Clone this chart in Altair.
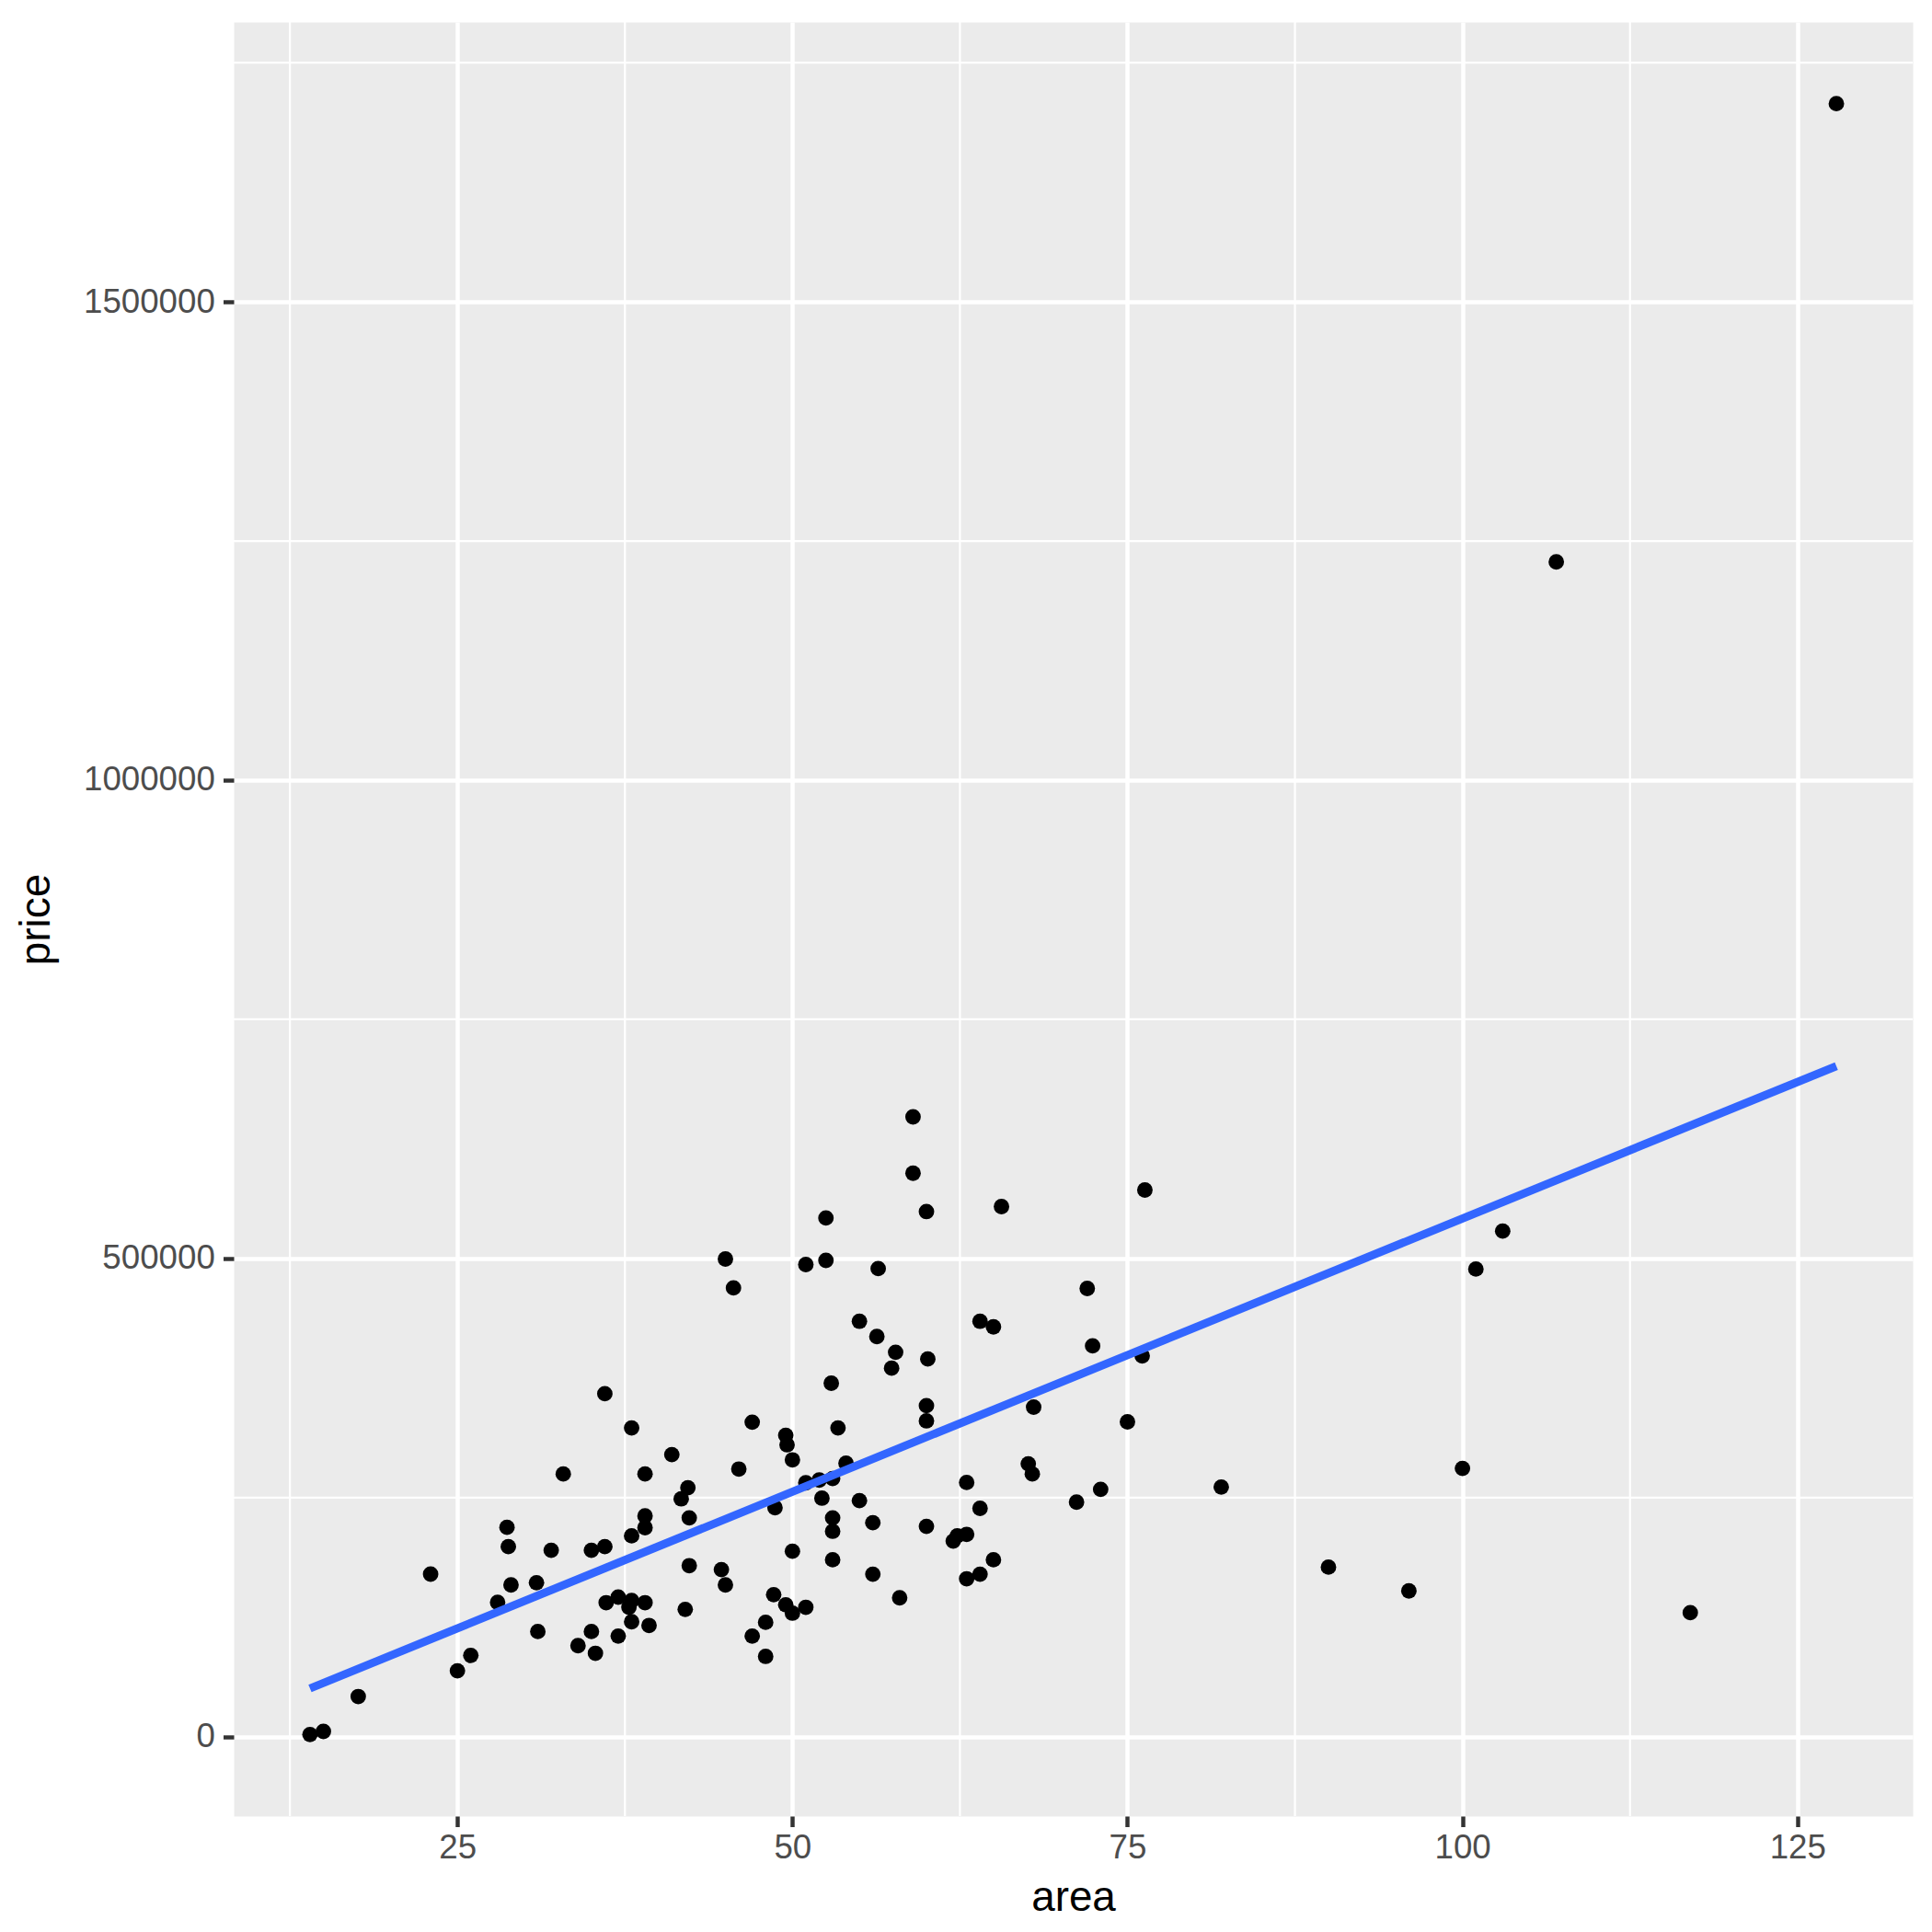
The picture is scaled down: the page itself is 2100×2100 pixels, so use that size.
import altair as alt
import pandas as pd

area = [
    32.9, 28.7, 28.8, 32.0, 35.0, 23.0, 29.0, 30.9, 28.0, 31.0, 34.0, 35.0, 35.3, 26.0, 25.0, 17.6, 14.0, 15.0,
    38.0, 47.0, 49.5, 49.6, 53.4, 41.0, 39.0, 46.0, 50.0, 54.0, 51.0, 52.0, 53.0, 42.2, 41.7, 52.2, 55.0, 48.7,
    39.0, 39.0, 42.3, 53.0, 53.0, 38.0, 36.0, 50.0, 53.0, 42.3, 44.7, 45.0, 36.1, 37.0, 38.0, 37.8, 39.0, 38.0,
    39.3, 42.0, 37.0, 48.6, 49.5, 50.0, 51.0, 48.0, 47.0, 48.0,
    52.5, 45.0, 45.6, 51.0, 52.5, 36.0, 52.9,
    59.0, 59.0, 60.0, 65.6, 76.3, 56.4, 55.0, 56.3, 57.7, 57.4, 60.1, 60.0, 60.0, 64.0, 65.0, 72.0, 72.4, 76.1,
    68.0, 75.0,
    67.6, 67.9, 63.0, 73.0, 71.2, 64.0, 56.0, 60.0, 62.0, 62.3, 63.0, 65.0, 63.0, 64.0, 56.0, 58.0,
    103.0, 101.0, 100.0, 82.0, 90.0, 96.0, 107.0, 127.9, 117.0,
]
price = [
    274700, 218900, 198700, 194900, 194900, 170000, 158700, 161000, 140400, 110000, 95200, 110000, 87200, 85000,
    68900, 42000, 2300, 5500,
    322800, 328800, 315100, 305200, 322800, 294900, 274700, 279800, 289400, 285900, 265400, 268300, 269900,
    260300, 248700, 249400, 246800, 239400, 230800, 218600, 228800, 228800, 214800, 210000, 198700, 193900,
    185000, 178800, 174700, 158700, 140100, 145900, 142300, 135300, 140100, 120200, 116300, 133100, 105200,
    148500, 137900, 129200, 135300, 119600, 105200, 84000,
    542300, 499400, 469200, 493600, 498000, 358600, 369600,
    648000, 589100, 549000, 554200, 571500, 489400, 434300, 418300, 401900, 385300, 394900, 346100, 330200,
    434300, 428500, 468600, 408600, 398100, 344600, 329200,
    285300, 274700, 265800, 258600, 245200, 238800, 223700, 219900, 204500, 210000, 211500, 185000, 165100,
    169900, 169900, 145200,
    528600, 488900, 280500, 261000, 177300, 152400, 1228100, 1707200, 129700,
]

# fitted (lm) line, endpoints
fit_area = [14.0, 127.9]
fit_price = [50500, 701100]

x_breaks = [25, 50, 75, 100, 125]
x_minor = [12.5, 37.5, 62.5, 87.5, 112.5]
y_breaks = [0, 500000, 1000000, 1500000]
y_minor = [250000, 750000, 1250000, 1750000]

df = pd.DataFrame({"area": area, "price": price})
fit_df = pd.DataFrame({"area": fit_area, "price": fit_price})

xmin, xmax = min(area), max(area)
ymin, ymax = min(price), max(price)
xpad = 0.05 * (xmax - xmin)
ypad = 0.05 * (ymax - ymin)

W, H = 1825, 1950
FONT = "Liberation Sans"

xs = alt.Scale(domain=[xmin - xpad, xmax + xpad], nice=False, zero=False)
ys = alt.Scale(domain=[ymin - ypad, ymax + ypad], nice=False, zero=False)

xaxis = alt.Axis(
    values=x_breaks, format="d", grid=True, gridColor="white", gridWidth=4.45,
    domain=False, tickColor="#333333", tickWidth=4.45, tickSize=11.5,
    labelFont=FONT, labelFontSize=36.7, labelColor="#4D4D4D", labelPadding=5,
    labelFlush=False, labelOverlap=False,
    titleFont=FONT, titleFontSize=45.8, titleColor="black", titleFontWeight="normal",
    titleBaseline="alphabetic", titleAlign="center", titleX=W / 2, titleY=102.7,
)
yaxis = alt.Axis(
    values=y_breaks, format="d", grid=True, gridColor="white", gridWidth=4.45,
    domain=False, tickColor="#333333", tickWidth=4.45, tickSize=11.5,
    labelFont=FONT, labelFontSize=36.7, labelColor="#4D4D4D", labelPadding=9.2,
    labelFlush=False, labelOverlap=False,
    titleFont=FONT, titleFontSize=45.8, titleColor="black", titleFontWeight="normal",
    titleBaseline="alphabetic", titleAlign="center", titleX=-201, titleY=H / 2,
)


def X(field):
    return alt.X(field, type="quantitative", scale=xs, axis=xaxis, title="area")


def Y(field):
    return alt.Y(field, type="quantitative", scale=ys, axis=yaxis, title="price")


minor_x = alt.Chart(pd.DataFrame({"area": x_minor})).mark_rule(
    color="white", strokeWidth=2.2
).encode(x=X("area"))

minor_y = alt.Chart(pd.DataFrame({"price": y_minor})).mark_rule(
    color="white", strokeWidth=2.2
).encode(y=Y("price"))

points = alt.Chart(df).mark_circle(
    size=285, color="black", opacity=1, strokeWidth=0
).encode(x=X("area"), y=Y("price"))

fit = alt.Chart(fit_df).mark_line(
    color="#3366FF", strokeWidth=8.9
).encode(x=X("area"), y=Y("price"))

chart = alt.layer(minor_x, minor_y, points, fit).properties(
    width=W, height=H,
    autosize=alt.AutoSizeParams(type="none"),
    padding={"left": 254, "top": 24, "right": 21, "bottom": 126},
    background="white",
).configure_view(fill="#EBEBEB", strokeOpacity=0)

chart.save("out.html", embed_options={"renderer": "svg", "actions": False})
